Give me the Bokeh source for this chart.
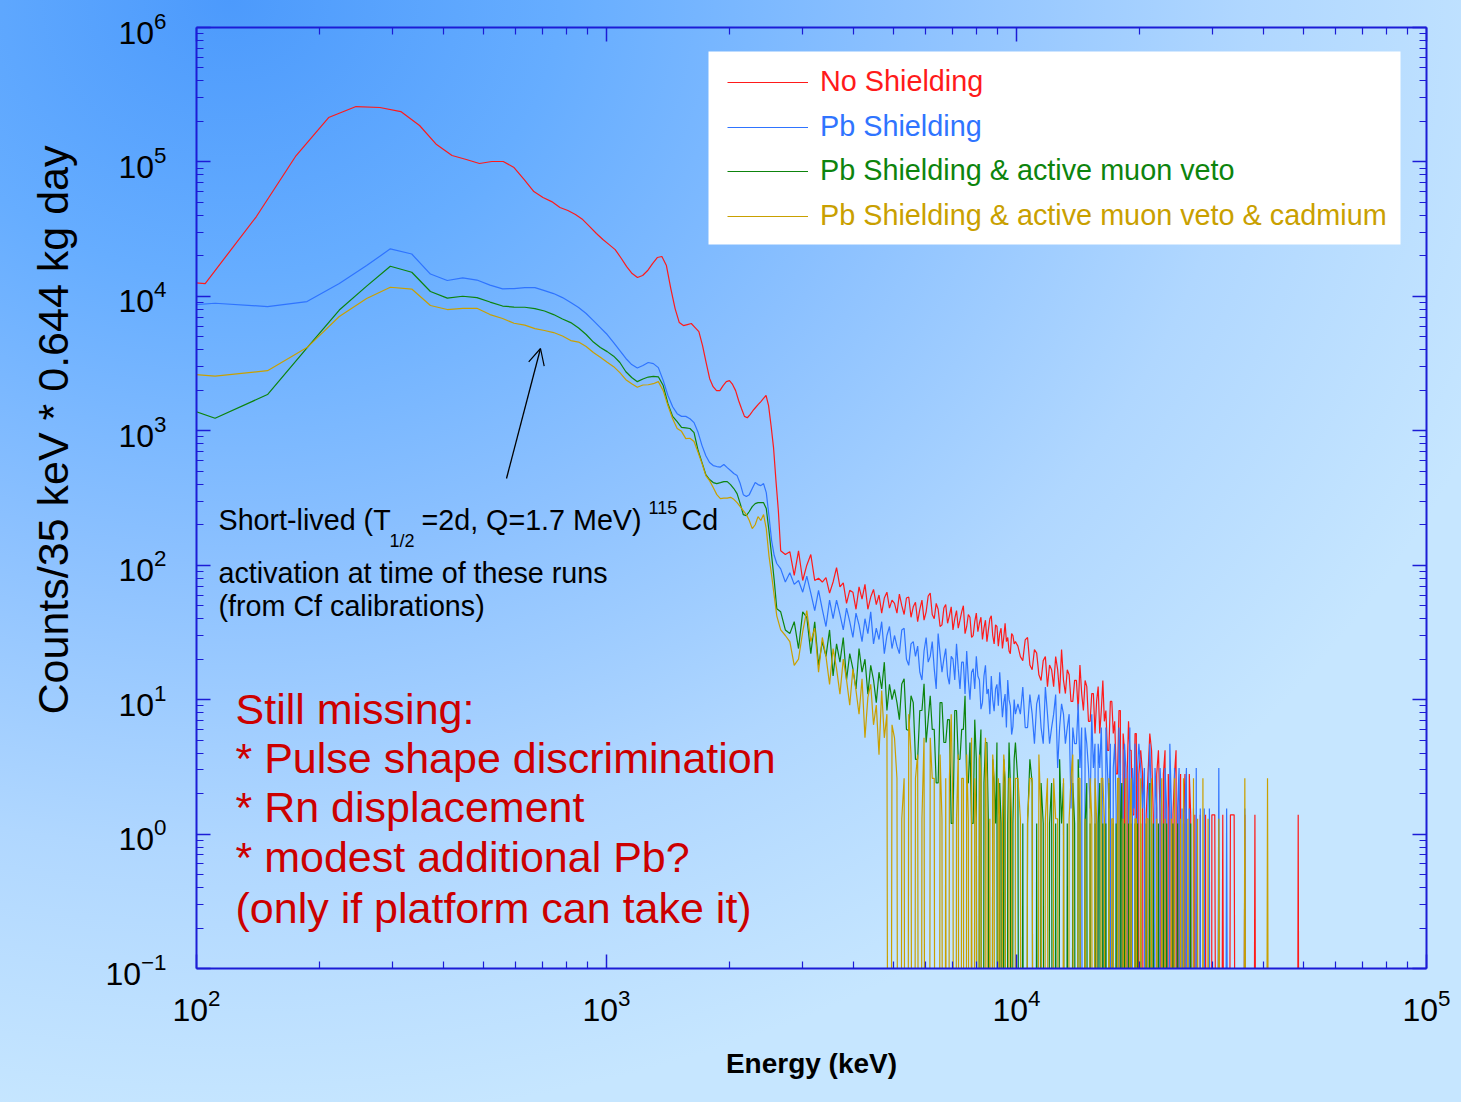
import numpy as np
from bokeh.plotting import figure
from bokeh.models import (Range1d, LogAxis, FixedTicker, Label, Arrow, OpenHead, Title,
                          Legend, LegendItem, BoxAnnotation, CustomJSTickFormatter)
from bokeh.embed import file_html
from bokeh.resources import INLINE

# ---------------- data ----------------
# energy bins (keV) of the unshielded run, low-energy part
red_energy = [70, 105, 140, 175, 210, 245, 280, 315, 350, 385, 420, 455, 490, 525, 560,
              595, 630, 665, 700, 735, 770, 805, 840, 875, 910, 945, 980, 1015, 1050, 1085,
              1120, 1155, 1190, 1225, 1260, 1295, 1330, 1365, 1400, 1435, 1470, 1505, 1540,
              1575, 1610, 1645, 1680, 1715, 1750, 1785, 1820, 1855, 1890, 1925, 1960, 1995,
              2030, 2065, 2100, 2135, 2170, 2205, 2240, 2275, 2310, 2345, 2380, 2415, 2450,
              2485, 2520, 2555, 2590, 2625]
# energy bins (keV) of the Pb-shielded runs, low-energy part
pb_energy = [74, 111, 149, 186, 223, 260, 297, 335, 372, 409,
             446, 483, 520, 558, 595, 632, 669, 706, 743, 781,
             818, 855, 892, 929, 966, 1004, 1041, 1078, 1115, 1152,
             1189, 1227, 1264, 1301, 1338, 1375, 1412, 1450, 1487, 1524,
             1561, 1598, 1635, 1673, 1710, 1747, 1784, 1821, 1858, 1896,
             1933, 1970, 2007, 2044, 2082, 2119, 2156, 2193, 2230, 2267,
             2305, 2342, 2379, 2416, 2453, 2490, 2528, 2565, 2602]
# energy bins (keV) of the high-energy tail (all runs), five stretches
tail_energy_a = [2660, 2730, 2800, 2870, 2940, 3010, 3080, 3150, 3220, 3290, 3360, 3430,
                 3500, 3570, 3640, 3710, 3780, 3850, 3920, 3990, 4060, 4130, 4200, 4270,
                 4340, 4410, 4480, 4550, 4620, 4690, 4760, 4830, 4900, 4970]
tail_energy_b = [5040, 5110, 5180, 5250, 5320, 5390, 5460, 5530, 5600, 5670, 5740, 5810,
                 5880, 5950, 6020, 6090, 6160, 6230, 6300, 6370, 6440, 6510, 6580, 6650,
                 6720, 6790, 6860, 6930, 7000, 7070, 7140, 7210, 7280, 7350, 7420, 7490,
                 7560, 7630, 7700, 7770, 7840, 7910, 7980, 8050, 8120, 8190, 8260, 8330,
                 8400, 8470, 8540, 8610, 8680, 8750, 8820, 8890, 8960, 9030, 9100, 9170,
                 9240, 9310, 9380, 9450, 9520, 9590, 9660, 9730, 9800, 9870, 9940]
tail_energy_c = [10080, 10220, 10360, 10500, 10640, 10780, 10920, 11060, 11200, 11340,
                 11480, 11620, 11760, 11900, 12040, 12180, 12320, 12460, 12600, 12740,
                 12880, 13020, 13160, 13300, 13440, 13580, 13720, 13860, 14000, 14140,
                 14280, 14420, 14560, 14700, 14840, 14980, 15120, 15260, 15400, 15540,
                 15680, 15820, 15960, 16100, 16240, 16380, 16520, 16660, 16800, 16940,
                 17080, 17220, 17360, 17500, 17640, 17780, 17920, 18060, 18200, 18340,
                 18480, 18620, 18760, 18900, 19040, 19180, 19320, 19460, 19600, 19740,
                 19880]
tail_energy_d = [20090, 20300, 20510, 20720, 20930, 21140, 21350, 21560, 21770, 21980,
                 22190, 22400, 22610, 22820, 23030, 23240, 23450, 23660, 23870, 24080,
                 24290, 24500, 24710, 24920, 25130, 25340, 25550, 25760, 25970, 26180,
                 26390, 26600, 26810, 27020, 27230, 27440, 27650, 27860, 28070, 28280,
                 28490, 28700, 28910, 29120, 29330, 29540, 29750, 29960]
tail_energy_e = [30450, 31150, 31850, 32550, 33250, 33950, 34650, 35350, 36050, 36750,
                 37450, 38150, 38850, 39550, 40250, 40950, 41650, 42350, 43050, 43750,
                 44450, 45150, 45850, 46550, 47250, 47950, 48650, 49350, 50050]

# --- No Shielding
no_shield_low = [13500, 12450, 39260, 111600, 213800, 258300, 254000, 237000, 186600, 134700,
                 111600, 104200, 97300, 100700, 100700, 90800, 73960, 60240, 54330, 50700,
                 45800, 43500, 40600, 37250, 33050, 29330, 26460, 24270, 22280, 19300,
                 16660, 14790, 13800, 14290, 15560, 17540, 19450, 19780, 16960, 11430,
                 8110, 6380, 6060, 6170, 6280, 5860, 5470, 4300, 3220, 2440,
                 2130, 1990, 1990, 2170, 2320, 2360, 2210, 1990, 1680, 1460,
                 1280, 1250, 1320, 1410, 1490, 1570, 1650, 1740, 1830, 1540,
                 1090, 750, 426, 255]
no_shield_a = [128, 120, 126, 84, 128, 77, 100, 120, 77, 80, 75, 81, 62, 75, 96, 69, 74,
               52, 65, 63, 47, 69, 56, 72, 47, 58, 66, 51, 60, 44, 57, 63, 48, 55]
no_shield_b = [52, 44, 61, 50, 43, 57, 58, 41, 49, 53, 38, 47, 55, 39, 45, 59, 62, 43, 40, 52,
               47, 35, 36, 48, 51, 37, 42, 49, 33, 40, 46, 34, 39, 45, 50, 31, 35, 43, 41, 29,
               30, 38, 44, 32, 37, 41, 28, 34, 39, 27, 33, 40, 42, 30, 26, 36, 35, 25, 31, 34,
               24, 29, 37, 27, 29, 23, 22, 31, 30, 26, 27]
no_shield_c = [25, 20.9, 19.5, 27.8, 29, 18.1, 16.7, 23.6, 22.2, 15.3,
               13.9, 19.5, 20.9, 12.5, 18.1, 16.7, 12.5, 20.9, 16.7, 11.1,
               23.6, 13.9, 11.1, 16.7, 15.3, 9.7, 9.7, 13.9, 13.9, 8.3,
               18.1, 11.1, 8.3, 13.9, 12.5, 6.9, 6.9, 11.1, 11.1, 5.6,
               9.7, 12.5, 5.6, 8.3, 13.9, 6.9, 8.3, 4.2, 4.2, 9.7,
               9.7, 5.6, 6.9, 2.8, 2.8, 8.3, 8.3, 0, 5.6, 4.2,
               0, 2.8, 6.9, 4.2, 4.2, 1.39, 1.39, 5.6, 5.6, 0, 2.8]
no_shield_d = [4.2, 2.8, 0, 1.39, 2.8, 5.6, 4.2, 1.39, 0, 2.8,
               4.2, 1.39, 0, 2.8, 4.2, 0, 2.8, 1.39, 0, 1.39,
               2.8, 4.2, 0, 1.39, 2.8, 0, 1.39, 2.8, 0, 0,
               2.8, 1.39, 0, 0, 1.39, 0, 0, 0, 1.39, 0,
               0, 0, 1.39, 0, 0, 0, 0, 1.39]
no_shield_e = [1.39, 0, 1.39, 0, 1.39, 1.39, 0, 0, 1.39, 0, 0, 1.39, 0, 0, 0, 0, 0, 0,
               0, 0, 0, 0, 0, 0, 0, 0, 1.39, 0, 0]

# --- Pb Shielding
pb_low = [8130, 8890, 8400, 9150, 12450, 16950, 22560, 20650, 14650, 13120,
          13740, 13220, 12130, 11370, 11430, 11620, 11620, 11040, 10490, 9790,
          8990, 8260, 7450, 6600, 5860, 5200, 4530, 3950, 3450, 3110,
          2930, 3060, 3220, 3160, 2950, 2370, 1830, 1510, 1340, 1280,
          1280, 1230, 1150, 970, 776, 653, 580, 551, 542, 537,
          561, 532, 506, 481, 464, 405, 335, 324, 335, 372,
          412, 398, 391, 405, 347, 234, 152, 118, 103]
pb_a = [94, 75, 88, 72, 77, 63, 83, 62, 46, 65, 47, 35, 55, 40, 55, 43, 33, 48, 38, 29,
        44, 36, 27, 40, 31, 45, 26, 34, 28, 38, 22, 30, 35, 24]
pb_b = [30, 25, 22, 33, 34, 20, 18, 26, 27, 21, 25, 16, 14, 23, 29, 19, 21, 27, 17, 12,
        31, 22, 16, 20, 24, 15, 13, 21, 20, 14, 26, 17, 12, 19, 19, 11, 23, 14, 10, 16,
        17, 12, 21, 15, 14, 8.5, 9.5, 15, 18, 11, 12, 7.8, 15, 10, 8.2, 12, 13, 9, 16, 11,
        7.4, 9.5, 11, 6.2, 14, 10, 9, 5.5, 6.3, 10, 7.8]
pb_c = [9.3, 7.8, 12.4, 6.2, 6.2, 10.9, 7.8, 4.7, 9.3, 10.9,
        6.2, 4.7, 12.4, 7.8, 4.7, 6.2, 7.8, 10.9, 3.1, 6.2,
        9.3, 7.8, 4.7, 6.2, 7.8, 1.55, 6.2, 4.7, 4.7, 9.3,
        3.1, 6.2, 0, 6.2, 4.7, 3.1, 1.55, 7.8, 3.1, 4.7,
        0, 4.7, 3.1, 6.2, 1.55, 0, 6.2, 3.1, 1.55, 4.7,
        0, 3.1, 4.7, 1.55, 0, 6.2, 3.1, 0, 1.55, 4.7,
        3.1, 0, 1.55, 6.2, 0, 3.1, 1.55, 4.7, 0, 3.1, 4.7]
pb_d = [3.1, 1.55, 3.1, 0, 1.55, 4.7, 1.55, 0, 3.1, 1.55,
        0, 3.1, 1.55, 0, 3.1, 1.55, 0, 4.7, 1.55, 0,
        3.1, 0, 1.55, 3.1, 0, 1.55, 0, 1.55, 3.1, 0,
        1.55, 0, 0, 1.55, 0, 3.1, 0, 0, 1.55, 0,
        0, 1.55, 0, 0, 0, 1.55, 0, 0]
pb_e = [0, 3.1, 0, 1.55, 0, 0, 0, 0, 1.55, 0, 0, 0, 0, 0, 0, 0, 0, 0, 0, 0, 0, 0, 0, 0,
        0, 0, 0, 0, 0]

# --- Pb Shielding & active muon veto
veto_low = [1900, 1240, 1860, 4130, 7910, 11910, 16750, 15110, 10860, 9710,
            10020, 9790, 9070, 8470, 8320, 8300, 8110, 7780, 7320, 6780,
            6380, 5810, 5200, 4570, 4160, 3880, 3590, 3220, 2750, 2490,
            2320, 2430, 2510, 2540, 2520, 2170, 1590, 1280, 1170, 1060,
            1050, 1040, 970, 713, 580, 472, 434, 412, 405, 412,
            419, 419, 398, 372, 341, 287, 238, 234, 251, 273,
            287, 292, 292, 292, 264, 181, 118, 77, 47.5]
veto_a = [45, 33, 31, 38, 24, 45, 41, 22, 38, 18, 27, 21, 33, 15, 26, 19, 29, 14, 22, 17,
          12, 24, 16, 20, 11, 18, 14, 9.5, 16, 12, 19, 8.3, 13, 10]
veto_b = [11.9, 9.5, 7.1, 13.1, 14.3, 6, 5.9, 10.7, 9.5, 3.6,
          3.6, 8.3, 8.3, 13.1, 4.8, 7.1, 10.7, 6, 6, 2.4,
          2.4, 9.5, 9.5, 4.8, 4.8, 7.1, 7.1, 1.2, 1.2, 8.3,
          8.3, 3.6, 3.6, 6, 6, 10.7, 2.4, 2.4, 4.8, 1.2,
          1.2, 7.1, 3.6, 0, 3.6, 6, 0, 2.4, 4.8, 4.8,
          1.2, 0, 0, 3.6, 2.4, 1.2, 4.8, 0, 2.4, 1.2,
          0, 3.6, 2.4, 0, 1.2, 4.8, 2.4, 0, 1.2, 3.6, 4.8]
veto_c = [2.4, 0, 1.2, 0, 1.2, 3.6, 2.4, 0, 1.2, 0,
          2.4, 1.2, 0, 0, 1.2, 2.4, 0, 1.2, 0, 3.6,
          1.2, 2.4, 0, 1.2, 0, 0, 2.4, 1.2, 0, 3.6,
          1.2, 0, 0, 1.2, 2.4, 0, 1.2, 0, 0, 1.2,
          0, 1.2, 2.4, 0, 1.2, 0, 1.2, 0, 2.4, 0,
          0, 1.2, 0, 1.2, 0, 0, 1.2, 2.4, 0, 1.2,
          0, 0, 1.2, 0, 1.2, 0, 0, 1.2, 0, 1.2, 0]
veto_d = [1.2, 0, 0, 1.2, 0, 2.4, 0, 1.2, 0, 0,
          1.2, 0, 0, 1.2, 0, 1.2, 0, 0, 0, 1.2,
          0, 0, 1.2, 0, 0, 0, 1.2, 0, 0, 0,
          0, 1.2, 0, 0, 0, 0, 0, 0, 0, 0,
          0, 0, 0, 0, 0, 0, 0, 0]
veto_e = [0] * 29

# --- Pb Shielding & active muon veto & cadmium
cd_low = [2830, 2550, 2800, 4160, 7080, 9630, 11690, 11330, 8550, 7980,
          8150, 8150, 7320, 6840, 6310, 6110, 5760, 5570, 5380, 5070,
          4690, 4570, 4230, 3820, 3530, 3240, 3000, 2710, 2400, 2240,
          2110, 2190, 2200, 2240, 2320, 1990, 1540, 1230, 1040, 990,
          875, 880, 832, 689, 570, 464, 426, 378, 335, 313,
          316, 316, 320, 309, 292, 273, 255, 238, 215, 187,
          200, 230, 215, 238, 187, 118, 84, 59, 42]
cd_a = [33, 30, 27, 18, 20, 32, 46, 27, 34, 16, 29, 21, 13, 24, 17, 11, 20, 14, 9.1, 16.9,
        11.7, 7.8, 14.3, 5.2, 10.4, 13, 6.5, 9.1, 3.9, 11.7, 5.2, 7.8, 0, 6.5]
cd_b = [5.2, 2.6, 0, 1.3, 2.6, 0, 7.8, 3.9, 0, 2.6,
        3.9, 0, 1.3, 5.2, 0, 0, 5.2, 2.6, 2.6, 0,
        0, 3.9, 1.3, 0, 2.6, 0, 2.6, 7.8, 1.3, 0,
        1.3, 3.9, 0, 2.6, 2.6, 0, 3.9, 1.3, 0, 5.2,
        0, 2.6, 1.3, 0, 3.9, 2.6, 0, 0, 5.2, 2.6,
        0, 1.3, 0, 3.9, 2.6, 0, 0, 2.6, 1.3, 0,
        1.3, 3.9, 2.6, 0, 0, 2.6, 2.6, 1.3, 0, 0, 2.6]
cd_c = [2.6, 1.3, 0, 0, 1.3, 2.6, 2.6, 0, 0, 3.9,
        1.3, 0, 1.3, 2.6, 0, 0, 2.6, 1.3, 1.3, 0,
        0, 2.6, 0, 0, 1.3, 2.6, 3.9, 0, 0, 2.6,
        2.6, 0, 0, 1.3, 0, 0, 2.6, 1.3, 0, 2.6,
        1.3, 0, 0, 2.6, 2.6, 1.3, 0, 0, 2.6, 0,
        1.3, 1.3, 0, 0, 2.6, 2.6, 0, 0, 1.3, 0,
        2.6, 0, 0, 1.3, 2.6, 0, 0, 1.3, 1.3, 0, 0]
cd_d = [2.6, 0, 0, 1.3, 1.3, 0, 2.6, 0, 0, 1.3,
        0, 0, 2.6, 0, 1.3, 0, 0, 0, 1.3, 0,
        2.6, 0, 0, 0, 1.3, 0, 2.6, 0, 0, 1.3,
        0, 0, 0, 2.6, 0, 0, 1.3, 0, 0, 0,
        2.6, 0, 0, 0, 1.3, 0, 0, 0]
cd_e = [0, 1.3, 0, 0, 0, 0, 0, 0, 2.6, 0, 0, 0, 0, 0, 0, 2.6, 0, 0, 0, 0, 0, 0, 0, 0, 0,
        0, 0, 0, 0]

series_labels = ["No Shielding", "Pb Shielding", "Pb Shielding & active muon veto",
                 "Pb Shielding & active muon veto & cadmium"]
x_ticks = [1e2, 1e3, 1e4, 1e5]
y_ticks = [1e-1, 1e0, 1e1, 1e2, 1e3, 1e4, 1e5, 1e6]

# ---------------- layout ----------------
W, H = 1461, 1102
FL, FR, FT, FB = 196, 1426, 27, 968
X_MIN, X_MAX = 1e2, 1e5
Y_MIN, Y_MAX = 1e-1, 1e6
FONT = "Liberation Sans"
AXC = "#1c1cd6"
COLORS = ["#ff1a1a", "#2f74ff", "#0d840d", "#c9a000"]


def ex(px):
    lo, hi = np.log10(X_MIN), np.log10(X_MAX)
    return float(10 ** (lo + (px - FL) / (FR - FL) * (hi - lo)))


def cy(py):
    lo, hi = np.log10(Y_MIN), np.log10(Y_MAX)
    return float(10 ** (hi - (py - FT) / (FB - FT) * (hi - lo)))


bg = ("radial-gradient(ellipse 1500px 1250px at 230px 0px, #4c9afc 0%, #66adff 22%, "
      "#8cc1ff 45%, #b0d7ff 68%, #c6e6ff 90%)")

p = figure(width=W, height=H, x_axis_type="log", y_axis_type="log",
           x_range=Range1d(X_MIN, X_MAX), y_range=Range1d(Y_MIN, Y_MAX),
           output_backend="svg", toolbar_location=None,
           min_border_left=FL, min_border_right=W - FR,
           min_border_top=FT, min_border_bottom=H - FB,
           background_fill_color=None, border_fill_color=None,
           outline_line_color=None, styles={"background": bg})
p.xgrid.visible = False
p.ygrid.visible = False

x_minor = [m * 10.0 ** e for e in range(2, 5) for m in range(2, 10)]
y_minor = [m * 10.0 ** e for e in range(-1, 6) for m in range(2, 10)]
xt = FixedTicker(ticks=x_ticks, minor_ticks=x_minor)
yt = FixedTicker(ticks=y_ticks, minor_ticks=y_minor)


def style_axis(ax):
    ax.axis_line_color = AXC
    ax.axis_line_width = 2
    ax.major_tick_line_color = AXC
    ax.minor_tick_line_color = AXC
    ax.major_tick_line_width = 1.5
    ax.minor_tick_line_width = 1.2
    ax.major_tick_in = 14
    ax.major_tick_out = 0
    ax.minor_tick_in = 7
    ax.minor_tick_out = 0
    ax.major_label_text_font = FONT
    ax.major_label_text_color = "black"
    ax.major_label_text_font_size = "32px"


xa = p.xaxis[0]
ya = p.yaxis[0]
xa.ticker = xt
ya.ticker = yt
style_axis(xa)
style_axis(ya)
xa.major_label_standoff = 20
ya.major_label_standoff = 30

blank = CustomJSTickFormatter(code="return ''")
top = LogAxis(ticker=xt, formatter=blank)
right = LogAxis(ticker=yt, formatter=blank)
for ax in (top, right):
    style_axis(ax)
    ax.major_label_text_font_size = "8px"
    ax.major_label_standoff = 0
p.add_layout(top, "above")
p.add_layout(right, "right")

# axis titles as side titles (so they can sit where the reference has them)
p.add_layout(Title(text="Counts/35 keV * 0.644 kg day", align="right", offset=118,
                   standoff=51, text_font=FONT, text_font_size="43px",
                   text_font_style="normal", text_color="black"), "left")
p.add_layout(Title(text="Energy (keV)", align="center", standoff=44,
                   text_font=FONT, text_font_size="28px",
                   text_font_style="bold", text_color="black"), "below")


def lab(px, py, text, size, color="black", style="normal", align="left"):
    p.add_layout(Label(x=ex(px), y=cy(py), text=text, text_font=FONT,
                       text_font_size=size, text_color=color, text_font_style=style,
                       text_align=align, text_baseline="middle"))


# ---------------- series ----------------
def plot_vals(vals):
    return [v if v > 0 else 1e-9 for v in vals]


tail_e = tail_energy_a + tail_energy_b + tail_energy_c + tail_energy_d + tail_energy_e
series = [
    (red_energy + tail_e,
     no_shield_low + no_shield_a + no_shield_b + no_shield_c + no_shield_d + no_shield_e),
    (pb_energy + tail_e, pb_low + pb_a + pb_b + pb_c + pb_d + pb_e),
    (pb_energy + tail_e, veto_low + veto_a + veto_b + veto_c + veto_d + veto_e),
    (pb_energy + tail_e, cd_low + cd_a + cd_b + cd_c + cd_d + cd_e),
]
renderers = []
for (xs, ys), col in zip(series, COLORS):
    n = min(len(xs), len(ys))
    r = p.line(xs[:n], plot_vals(ys[:n]), line_color=col, line_width=1.2)
    renderers.append(r)

# ---------------- legend ----------------
p.add_layout(BoxAnnotation(left=ex(708), right=ex(1400), bottom=cy(244), top=cy(51),
                           fill_color="white", fill_alpha=1.0, line_color=None,
                           level="underlay"))
row_y = [82, 127, 171, 216]
for lab_txt, r, col, yy in zip(series_labels, renderers, COLORS, row_y):
    leg = Legend(items=[LegendItem(label=lab_txt, renderers=[r])],
                 location=(727 - FL, FB - (yy + 16)),
                 background_fill_alpha=0, border_line_alpha=0,
                 padding=0, margin=0, spacing=0,
                 glyph_width=81, glyph_height=32, label_height=32,
                 label_standoff=12, label_text_font=FONT,
                 label_text_font_size="28.8px", label_text_color=col)
    p.add_layout(leg)

# ---------------- annotations ----------------
lab(218, 519, "Short-lived (T", "28.7px")
lab(389, 540, "1/2", "18px")
lab(421, 519, "=2d, Q=1.7 MeV)", "28.7px")
lab(648, 507, "115", "18px")
lab(681, 519, "Cd", "28.7px")
lab(218, 572, "activation at time of these runs", "28.7px")
lab(218, 605, "(from Cf calibrations)", "28.7px")

red_txt = ["Still missing:", "* Pulse shape discrimination", "* Rn displacement",
           "* modest additional Pb?", "(only if platform can take it)"]
for t, yy in zip(red_txt, [708, 757, 806, 856, 907]):
    lab(235, yy, t, "43px", "#cc0000")

p.add_layout(Arrow(end=OpenHead(size=16, line_color="black", line_width=1.2),
                   x_start=ex(506), y_start=cy(478), x_end=ex(540), y_end=cy(348),
                   line_color="black", line_width=1.3))

open("out.html", "w").write(file_html(p, INLINE))
